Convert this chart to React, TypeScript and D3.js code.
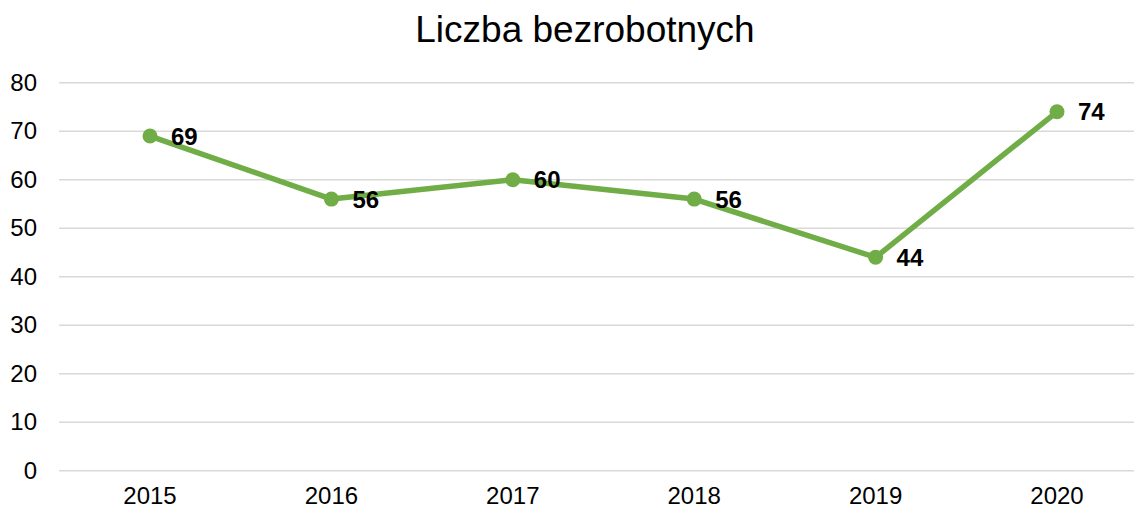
import React from "react";
import * as d3 from "d3";

const title = "Liczba bezrobotnych";
const years = ["2015", "2016", "2017", "2018", "2019", "2020"];
const values = [69, 56, 60, 56, 44, 74];
const yTicks = [0, 10, 20, 30, 40, 50, 60, 70, 80];

const width = 1134;
const height = 508;
const green = "#70ad47";
const font = "Arial, 'Liberation Sans', sans-serif";

const App = () => {
    const x = d3.scalePoint<string>().domain(years).range([150, 1057]);
    const y = d3.scaleLinear().domain([0, 80]).range([470.7, 82.7]);

    const line = d3
        .line<number>()
        .x((_, i) => x(years[i]) as number)
        .y((d) => y(d));

    return (
        <svg
            width={width}
            height={height}
            style={{ position: "absolute", left: 0, top: 0, background: "#fff" }}
            fontFamily={font}
        >
            <text x={585} y={42} textAnchor="middle" fontSize={37} fill="#000">
                {title}
            </text>

            {/* grid + y labels */}
            {yTicks.map((t) => (
                <g key={t}>
                    <line
                        x1={59}
                        x2={width}
                        y1={y(t)}
                        y2={y(t)}
                        stroke="#d9d9d9"
                        strokeWidth={1.5}
                    />
                    <text
                        x={37}
                        y={y(t)}
                        dy="0.33em"
                        textAnchor="end"
                        fontSize={24}
                        fill="#000"
                    >
                        {t}
                    </text>
                </g>
            ))}

            {/* x labels */}
            {years.map((yr) => (
                <text
                    key={yr}
                    x={x(yr)}
                    y={504}
                    textAnchor="middle"
                    fontSize={24}
                    fill="#000"
                >
                    {yr}
                </text>
            ))}

            <path
                d={line(values) || ""}
                fill="none"
                stroke={green}
                strokeWidth={5.5}
                strokeLinejoin="round"
            />

            {values.map((v, i) => (
                <g key={years[i]}>
                    <circle cx={x(years[i])} cy={y(v)} r={7.5} fill={green} />
                    <text
                        x={(x(years[i]) as number) + 21}
                        y={y(v)}
                        dy="0.36em"
                        fontSize={24}
                        fontWeight="bold"
                        fill="#000"
                    >
                        {v}
                    </text>
                </g>
            ))}
        </svg>
    );
};

export default App;
